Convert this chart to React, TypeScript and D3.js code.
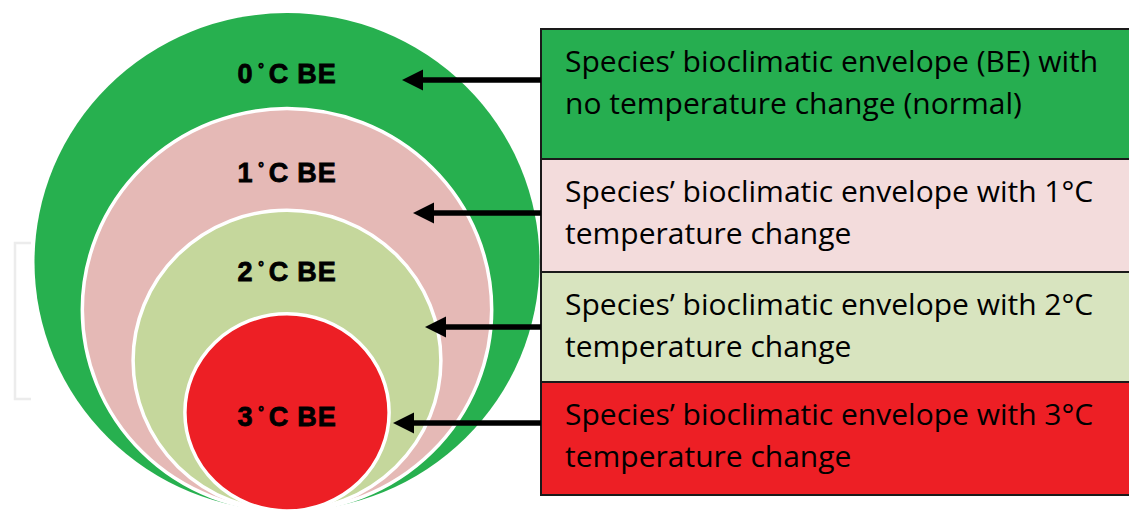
import React from "react";
import * as d3 from "d3";

// ---- data ----
const levels = ["0", "1", "2", "3"]; // temperature change (°C)
const envelopeSize = [100, 80.8, 60.4, 39.6]; // relative size of bioclimatic envelope (% of normal)
const descLine1 = [
  "Species\u2019 bioclimatic envelope (BE) with",
  "Species\u2019 bioclimatic envelope with 1\u00B0C",
  "Species\u2019 bioclimatic envelope with 2\u00B0C",
  "Species\u2019 bioclimatic envelope with 3\u00B0C",
];
const descLine2 = [
  "no temperature change (normal)",
  "temperature change",
  "temperature change",
  "temperature change",
];

// ---- styles / layout ----
const W = 1129;
const H = 513;
const circleFill = ["#27b04f", "#e5b9b6", "#c5d79c", "#ed1f25"];
const boxFill = ["#26ae50", "#f3dcdc", "#d8e4bf", "#ed1f25"];
const labelY = [73, 172, 271, 416];
const arrowY = [80, 213, 327, 423];
const arrowTip = [402, 413, 425, 393];
const boxEdges = [29, 159, 272, 382, 495];
const boxX = 541;
const cx = 287;
const bottomY = 511;

export default function App() {
  const ry = d3.scaleLinear().domain([0, 100]).range([0, 249]);
  const arrowHeadLen = 21;
  const arrowHalf = 10.5;
  const descFont = {
    fontFamily: "'Open Sans', Lato, sans-serif",
    fontSize: 30,
    fill: "#000",
    style: { fontVariantLigatures: "none" as const },
  };

  return (
    <svg
      width={W}
      height={H}
      style={{ position: "absolute", left: 0, top: 0, background: "#fff" }}
    >
      {/* faint bracket behind */}
      <path d="M31,243 H15 V399 H31" fill="none" stroke="#ececec" strokeWidth={2.5} />

      {/* nested envelopes */}
      {envelopeSize.map((v, i) => {
        const r = ry(v);
        return (
          <ellipse
            key={"e" + i}
            cx={cx}
            cy={bottomY - r}
            rx={r + 3.5}
            ry={r}
            fill={circleFill[i]}
            stroke={i === 0 ? "none" : "#ffffff"}
            strokeWidth={i === 0 ? 0 : 3.5}
          />
        );
      })}

      {/* envelope labels */}
      {levels.map((t, i) => (
        <text
          key={"l" + i}
          x={cx}
          y={labelY[i]}
          dy="0.36em"
          textAnchor="middle"
          fontFamily="'Liberation Sans', Arial, sans-serif"
          fontWeight="bold"
          fontSize={27}
          fill="#000"
          stroke="#000"
          strokeWidth={0.8}
          letterSpacing={0.8}
        >
          {t}
          <tspan dx={5} fontSize={14} dy={-9}>
            {"\u00B0"}
          </tspan>
          <tspan dx={4} dy={9}>
            {"C BE"}
          </tspan>
        </text>
      ))}

      {/* description boxes */}
      {levels.map((_, i) => (
        <g key={"b" + i}>
          <rect
            x={boxX}
            y={boxEdges[i]}
            width={W - boxX + 10}
            height={boxEdges[i + 1] - boxEdges[i]}
            fill={boxFill[i]}
            stroke="#1a1a1a"
            strokeWidth={2}
          />
          <text x={565} y={boxEdges[i] + 43} {...descFont}>
            {descLine1[i]}
          </text>
          <text x={565} y={boxEdges[i] + 85} {...descFont}>
            {descLine2[i]}
          </text>
        </g>
      ))}

      {/* arrows */}
      {levels.map((_, i) => {
        const y = arrowY[i];
        const tip = arrowTip[i];
        return (
          <g key={"a" + i}>
            <line
              x1={boxX}
              x2={tip + arrowHeadLen - 2}
              y1={y}
              y2={y}
              stroke="#000"
              strokeWidth={5.5}
            />
            <path
              d={`M${tip},${y} L${tip + arrowHeadLen},${y - arrowHalf} L${tip + arrowHeadLen},${y + arrowHalf} Z`}
              fill="#000"
            />
          </g>
        );
      })}
    </svg>
  );
}
